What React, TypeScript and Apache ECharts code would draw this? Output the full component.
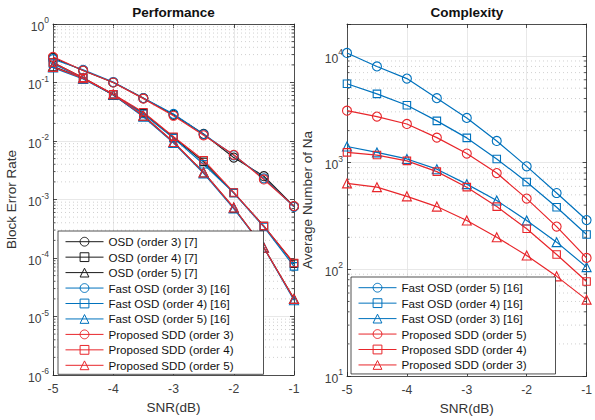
import React, { useEffect, useRef } from "react";
import * as echarts from "echarts";

const SNR = [-5, -4.5, -4, -3.5, -3, -2.5, -2, -1.5, -1];

// Performance (Block Error Rate)
const OSD3 = [0.265, 0.16, 0.1, 0.054, 0.028, 0.0132, 0.0052, 0.0025, 0.00076];
const OSD4 = [0.22, 0.12, 0.062, 0.03, 0.0115, 0.0044, 0.0013, 0.00035, 0.00008];
const OSD5 = [0.19, 0.118, 0.061, 0.027, 0.0095, 0.0029, 0.00072, 0.00015, 0.00002];
const FAST3 = [0.25, 0.165, 0.102, 0.054, 0.029, 0.013, 0.0057, 0.0023, 0.00075];
const FAST4 = [0.21, 0.118, 0.063, 0.029, 0.0112, 0.004, 0.0013, 0.00034, 0.000072];
const FAST5 = [0.18, 0.115, 0.062, 0.026, 0.0093, 0.0028, 0.0007, 0.00015, 0.000019];
const SDD3 = [0.275, 0.16, 0.1, 0.053, 0.027, 0.0125, 0.0058, 0.0022, 0.00077];
const SDD4 = [0.22, 0.12, 0.063, 0.031, 0.0118, 0.0047, 0.00132, 0.00035, 0.000082];
const SDD5 = [0.185, 0.118, 0.063, 0.027, 0.0096, 0.0029, 0.00073, 0.00015, 0.00002];

// Complexity (Average Number of Na)
const C_FAST5 = [10700, 8000, 6150, 4030, 2630, 1600, 925, 520, 290];
const C_FAST4 = [5500, 4420, 3460, 2470, 1710, 1085, 660, 382, 212];
const C_FAST3 = [1420, 1250, 1085, 870, 630, 442, 287, 180, 105];
const C_SDD5 = [3080, 2710, 2310, 1720, 1220, 800, 461, 252, 128];
const C_SDD4 = [1250, 1180, 1040, 825, 590, 388, 240, 138, 77];
const C_SDD3 = [640, 590, 484, 388, 287, 200, 135, 86, 52];

const X_MIN = -5;
const X_MAX = -1;
const LEFT_DECADES = [-6, -5, -4, -3, -2, -1];
const RIGHT_DECADES = [1, 2, 3];
const MINOR_DIGITS = [2, 3, 4, 5, 6, 7, 8, 9];

const BLACK = "#1a1a1a";
const BLUE = "#0072BD";
const RED = "#E8262B";
const AXIS = "#262626";
const FONT = "'Liberation Sans', Arial, Helvetica, sans-serif";

const minorOf = (decades: number[]) =>
  decades.flatMap((e) => MINOR_DIGITS.map((d) => d * Math.pow(10, e)));

const logLabel = (v: number) => {
  const e = Math.log10(v);
  const r = Math.round(e);
  if (Math.abs(e - r) > 1e-6) return "";
  return `{b|10}{s|${r}}`;
};

const labelRich = {
  b: { fontSize: 12.2, color: "#404040", lineHeight: 17, verticalAlign: "bottom", fontFamily: FONT },
  s: { fontSize: 8.5, color: "#404040", verticalAlign: "top", fontFamily: FONT },
};

function lineSeries(
  name: string,
  vals: number[],
  color: string,
  symbol: string,
  axisIdx: number
) {
  const size = symbol === "rect" ? 7.5 : 9;
  return {
    type: "line",
    name,
    xAxisIndex: axisIdx,
    yAxisIndex: axisIdx,
    data: SNR.map((x, i) => [x, vals[i]]),
    symbol,
    symbolSize: size,
    showAllSymbol: true,
    lineStyle: { color, width: 1.2 },
    itemStyle: { color: "rgba(255,255,255,0)", borderColor: color, borderWidth: 1.1 },
    emphasis: { disabled: true },
    z: 3,
  };
}

function minorGrid(values: number[], axisIdx: number) {
  return {
    type: "custom",
    xAxisIndex: axisIdx,
    yAxisIndex: axisIdx,
    silent: true,
    z: 1,
    data: values.map((v) => [X_MIN, v]),
    renderItem: (_p: any, api: any) => {
      const v = api.value(1);
      const a = api.coord([X_MIN, v]);
      const b = api.coord([X_MAX, v]);
      return {
        type: "group",
        children: [
          {
            type: "line",
            shape: { x1: a[0], y1: a[1], x2: b[0], y2: b[1] },
            style: { stroke: "#c4c4c4", lineWidth: 0.8, lineDash: [1, 3] },
          },
          {
            type: "line",
            shape: { x1: a[0], y1: a[1], x2: a[0] + 2.5, y2: a[1] },
            style: { stroke: AXIS, lineWidth: 0.8 },
          },
          {
            type: "line",
            shape: { x1: b[0] - 2.5, y1: b[1], x2: b[0], y2: b[1] },
            style: { stroke: AXIS, lineWidth: 0.8 },
          },
        ],
      };
    },
  };
}

const axisLineStyle = { color: AXIS, width: 0.8 };

function xAxes(gridIndex: number, title: string) {
  return [
    {
      type: "value",
      gridIndex,
      min: X_MIN,
      max: X_MAX,
      interval: 1,
      position: "bottom",
      axisLine: { show: true, onZero: false, lineStyle: axisLineStyle },
      axisTick: { show: true, inside: true, length: 4, lineStyle: axisLineStyle },
      axisLabel: { show: true, fontSize: 12.2, color: "#404040", margin: 8, fontFamily: FONT },
      splitLine: { show: true, lineStyle: { color: "#e2e2e2", width: 0.8 } },
      name: "SNR(dB)",
      nameLocation: "middle",
      nameGap: 25,
      nameTextStyle: { fontSize: 13.5, color: "#333", fontFamily: FONT },
    },
    {
      type: "value",
      gridIndex,
      min: X_MIN,
      max: X_MAX,
      interval: 1,
      position: "top",
      axisLine: { show: true, onZero: false, lineStyle: axisLineStyle },
      axisTick: { show: true, inside: true, length: 4, lineStyle: axisLineStyle },
      axisLabel: { show: false },
      splitLine: { show: false },
      name: title,
      nameLocation: "middle",
      nameGap: 5,
      nameTextStyle: { fontSize: 13.5, fontWeight: "bold", color: "#111", fontFamily: FONT },
    },
  ];
}

function yAxes(gridIndex: number, min: number, max: number, split: number, name: string, gap: number) {
  return [
    {
      type: "log",
      logBase: 10,
      gridIndex,
      min,
      max,
      splitNumber: split,
      position: "left",
      axisLine: { show: true, onZero: false, lineStyle: axisLineStyle },
      axisTick: { show: true, inside: true, length: 4, lineStyle: axisLineStyle },
      axisLabel: { show: true, formatter: logLabel, rich: labelRich, margin: 4 },
      splitLine: { show: true, lineStyle: { color: "#e2e2e2", width: 0.8 } },
      name,
      nameLocation: "middle",
      nameGap: gap,
      nameTextStyle: { fontSize: 13.5, color: "#333", fontFamily: FONT },
    },
    {
      type: "log",
      logBase: 10,
      gridIndex,
      min,
      max,
      splitNumber: split,
      position: "right",
      axisLine: { show: true, onZero: false, lineStyle: axisLineStyle },
      axisTick: { show: true, inside: true, length: 4, lineStyle: axisLineStyle },
      axisLabel: { show: false },
      splitLine: { show: false },
    },
  ];
}

const LEFT_NAMES = [
  "OSD (order 3) [7]",
  "OSD (order 4) [7]",
  "OSD (order 5) [7]",
  "Fast OSD (order 3) [16]",
  "Fast OSD (order 4) [16]",
  "Fast OSD (order 5) [16]",
  "Proposed SDD (order 3)",
  "Proposed SDD (order 4)",
  "Proposed SDD (order 5)",
];

const RIGHT_NAMES = [
  "Fast OSD (order 5) [16] ",
  "Fast OSD (order 4) [16] ",
  "Fast OSD (order 3) [16] ",
  "Proposed SDD (order 5) ",
  "Proposed SDD (order 4) ",
  "Proposed SDD (order 3) ",
];

function legend(left: number, top: number, data: string[], padRight: number) {
  return {
    left,
    top,
    orient: "vertical",
    data,
    selectedMode: false,
    itemWidth: 38,
    itemHeight: 11,
    itemGap: 3.45,
    padding: [4.7, padRight, 3, 7],
    backgroundColor: "#ffffff",
    borderColor: AXIS,
    borderWidth: 0.8,
    borderRadius: 0,
    formatter: (n: string) => n.trim(),
    lineStyle: { width: 1 },
    itemStyle: { borderWidth: 1 },
    textStyle: { fontSize: 11.6, color: "#111", lineHeight: 12, fontFamily: FONT },
    z: 10,
  };
}

export default function App() {
  const ref = useRef<HTMLDivElement>(null);
  useEffect(() => {
    document.body.style.margin = "0";
    if (!ref.current) return;
    const chart = echarts.init(ref.current, undefined, { renderer: "svg" });
    const option: any = {
      animation: false,
      backgroundColor: "#ffffff",
      textStyle: { fontFamily: FONT },
      grid: [
        { left: 53, top: 22, width: 241, height: 353 },
        { left: 347, top: 23, width: 244, height: 353 },
      ],
      xAxis: [...xAxes(0, "Performance"), ...xAxes(1, "Complexity")],
      yAxis: [
        ...yAxes(0, 1e-6, 1, 6, "Block Error Rate", 35),
        ...yAxes(1, 10, 20000, 3, "Average Number of Na", 33),
      ],
      legend: [legend(58, 231, LEFT_NAMES, 30), legend(351, 277, RIGHT_NAMES, 29)],
      series: [
        minorGrid(minorOf(LEFT_DECADES), 0),
        minorGrid(minorOf(RIGHT_DECADES), 2),
        lineSeries(LEFT_NAMES[0], OSD3, BLACK, "circle", 0),
        lineSeries(LEFT_NAMES[1], OSD4, BLACK, "rect", 0),
        lineSeries(LEFT_NAMES[2], OSD5, BLACK, "triangle", 0),
        lineSeries(LEFT_NAMES[3], FAST3, BLUE, "circle", 0),
        lineSeries(LEFT_NAMES[4], FAST4, BLUE, "rect", 0),
        lineSeries(LEFT_NAMES[5], FAST5, BLUE, "triangle", 0),
        lineSeries(LEFT_NAMES[6], SDD3, RED, "circle", 0),
        lineSeries(LEFT_NAMES[7], SDD4, RED, "rect", 0),
        lineSeries(LEFT_NAMES[8], SDD5, RED, "triangle", 0),
        lineSeries(RIGHT_NAMES[0], C_FAST5, BLUE, "circle", 2),
        lineSeries(RIGHT_NAMES[1], C_FAST4, BLUE, "rect", 2),
        lineSeries(RIGHT_NAMES[2], C_FAST3, BLUE, "triangle", 2),
        lineSeries(RIGHT_NAMES[3], C_SDD5, RED, "circle", 2),
        lineSeries(RIGHT_NAMES[4], C_SDD4, RED, "rect", 2),
        lineSeries(RIGHT_NAMES[5], C_SDD3, RED, "triangle", 2),
      ],
    };
    chart.setOption(option);
    return () => chart.dispose();
  }, []);
  return <div ref={ref} style={{ width: 595, height: 420 }} />;
}
